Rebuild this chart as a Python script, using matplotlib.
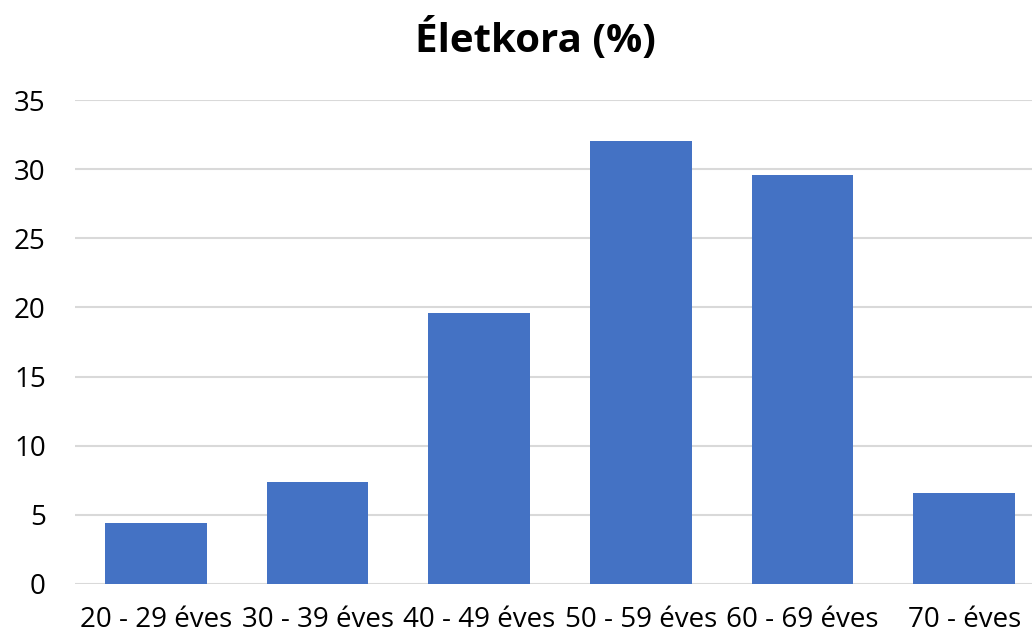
import matplotlib.pyplot as plt
import numpy as np

plt.rcParams['font.family'] = ['Open Sans', 'DejaVu Sans']

kategoriak = ["20 - 29 éves", "30 - 39 éves", "40 - 49 éves", "50 - 59 éves", "60 - 69 éves", "70 - éves"]
ertekek = [4.4, 7.4, 19.6, 32.0, 29.6, 6.6]
y_tickek = [0, 5, 10, 15, 20, 25, 30, 35]

fig = plt.figure(figsize=(10.32, 6.36), dpi=100)
ax = fig.add_axes([75/1032, 1 - 584/636, 970/1032, 484/636])

x = np.arange(len(kategoriak))
ax.bar(x, ertekek, width=0.63, color="#4472C4", zorder=3)

ax.set_xlim(-0.5, len(kategoriak) - 0.5)
ax.set_ylim(0, 35)
ax.set_yticks(y_tickek)
ax.set_xticks(x)
ax.set_xticklabels(kategoriak)
ax.tick_params(axis='both', length=0, labelsize=20, colors="#000000")
ax.tick_params(axis='x', pad=16)
ax.tick_params(axis='y', pad=21)
ax.grid(axis='y', color="#D9D9D9", linewidth=1.5, zorder=0)
for s in ax.spines.values():
    s.set_visible(False)

fig.text(535/1032, 1 - 40/636, "Életkora (%)", ha='center', va='center',
         fontsize=29, fontweight='bold')

fig.savefig("out.png", dpi=100)
